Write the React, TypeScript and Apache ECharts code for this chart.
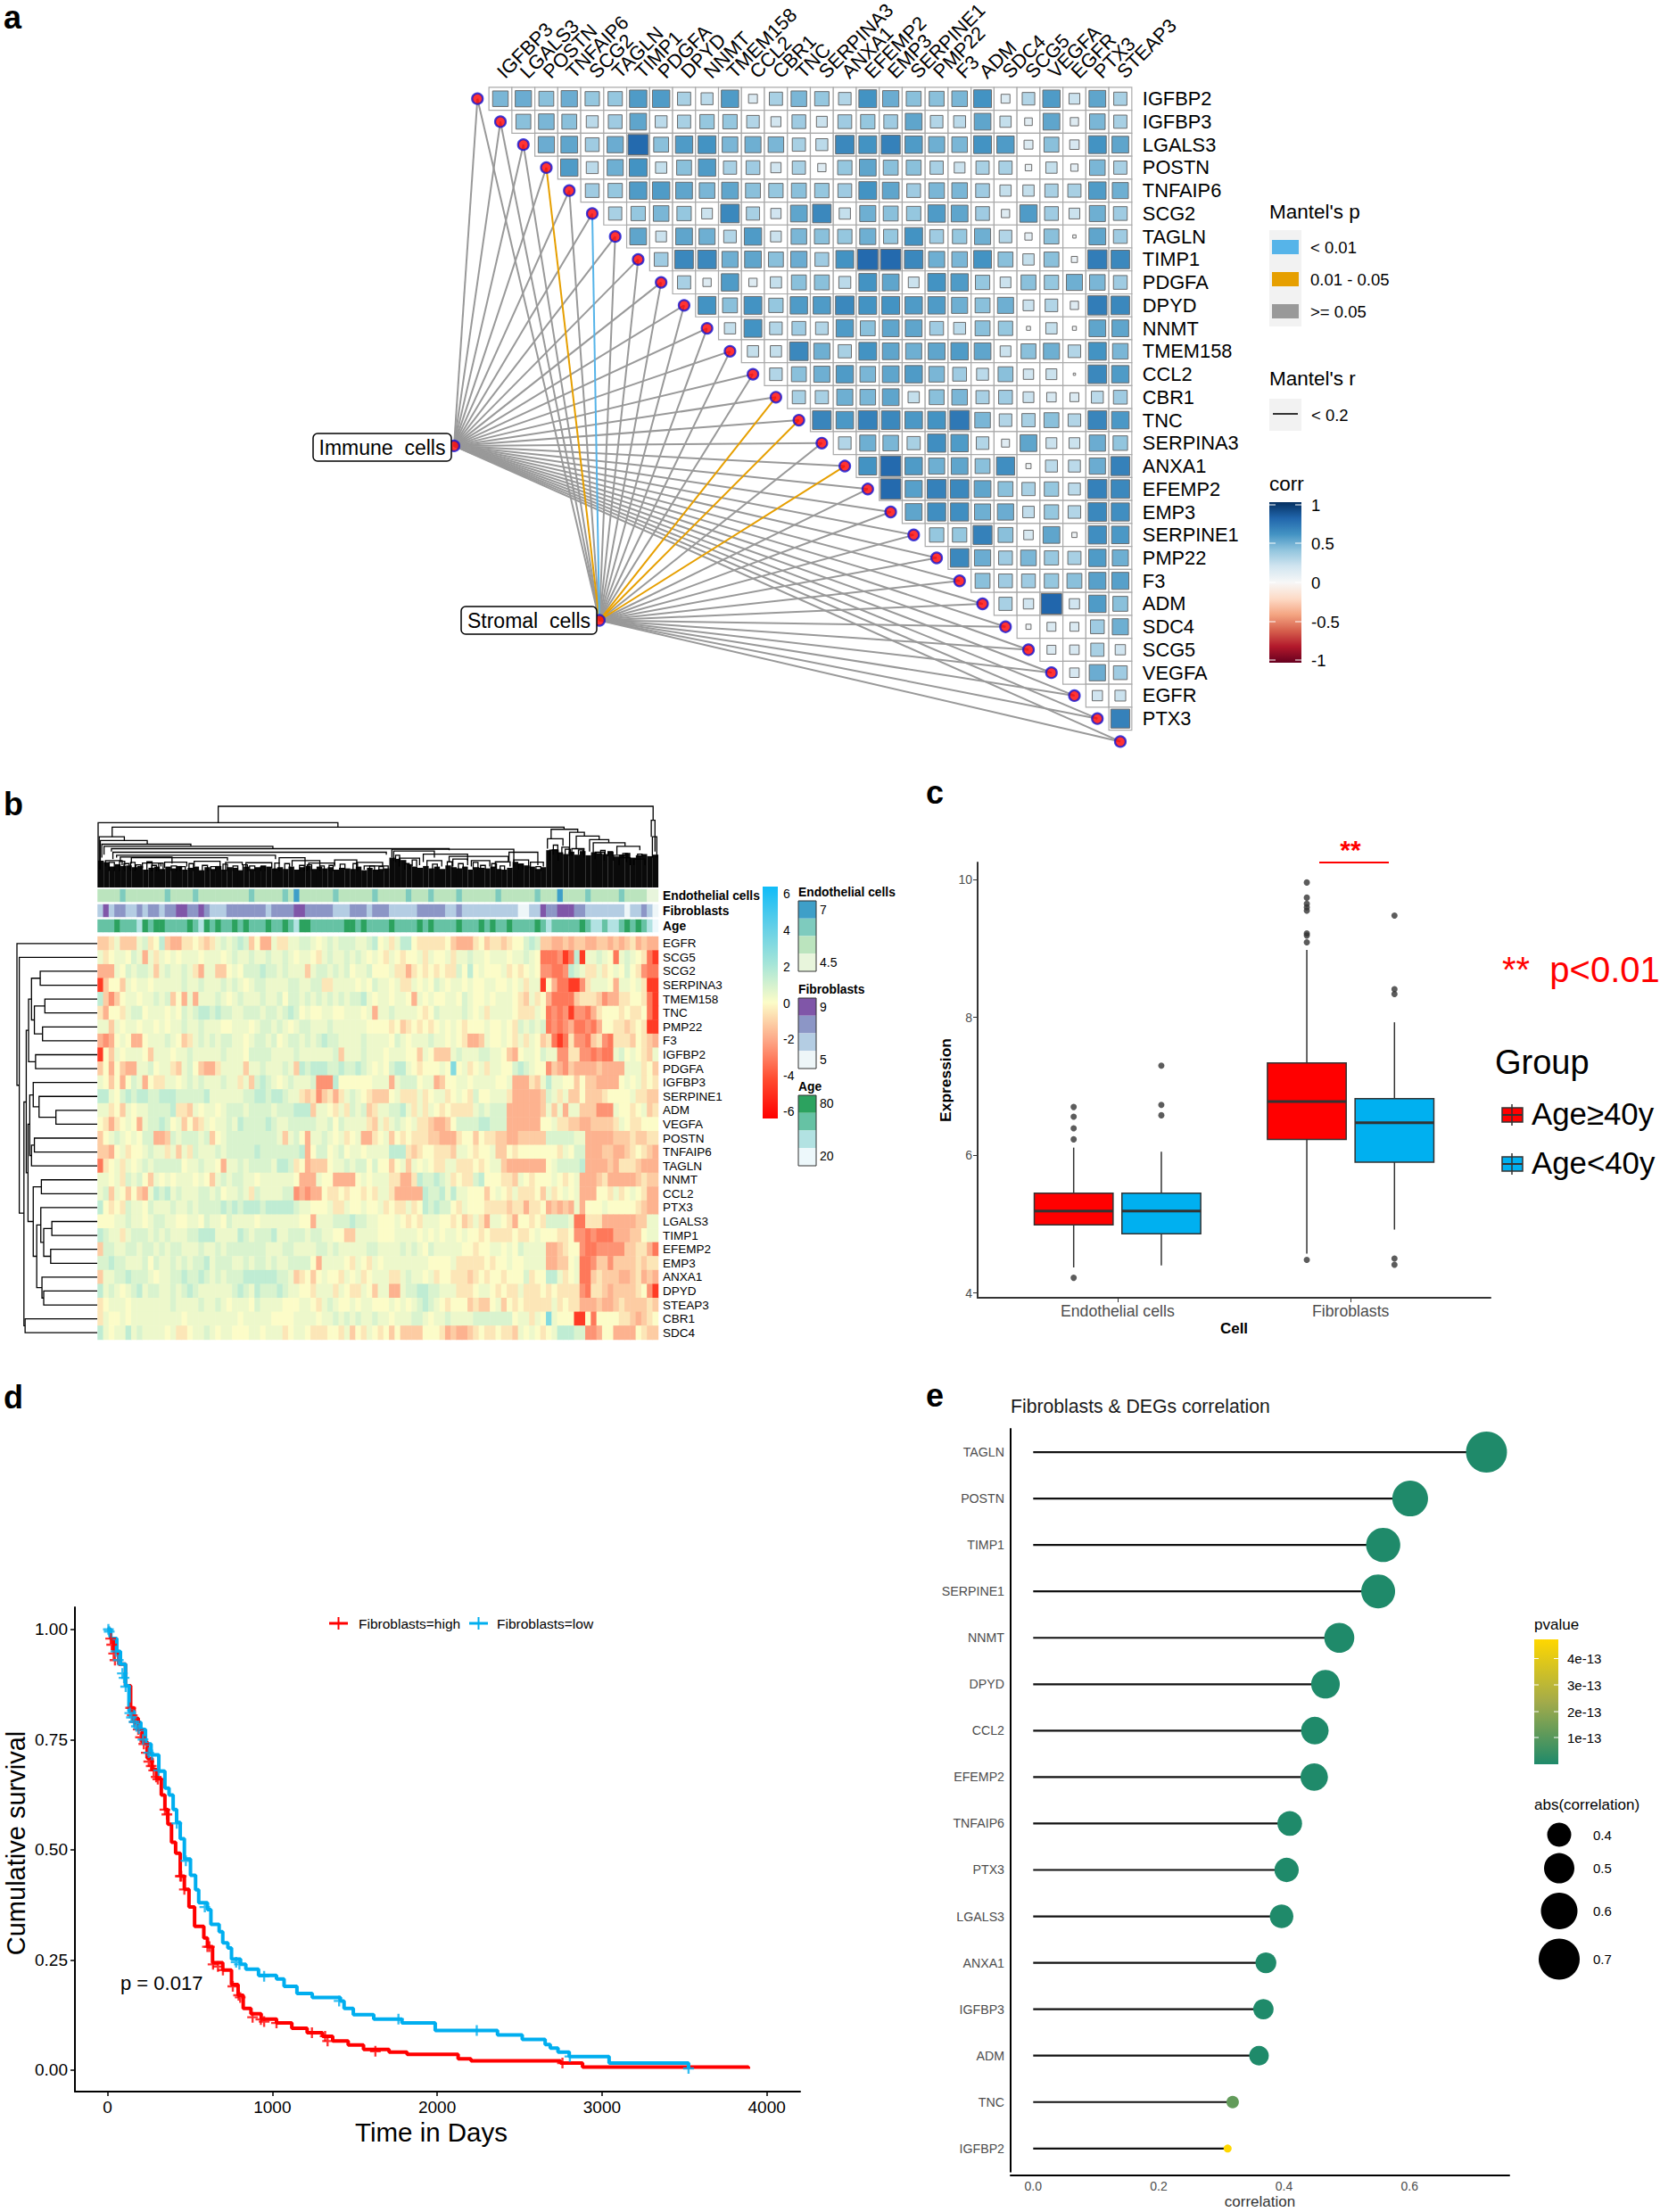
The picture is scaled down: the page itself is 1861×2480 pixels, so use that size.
import React, { useEffect, useRef } from "react";
import * as echarts from "echarts";

const FONT = "'Liberation Sans', Arial, sans-serif";

// ---------- panel a data ----------
const columnGenes = ["IGFBP3","LGALS3","POSTN","TNFAIP6","SCG2","TAGLN","TIMP1","PDGFA","DPYD","NNMT","TMEM158","CCL2","CBR1","TNC","SERPINA3","ANXA1","EFEMP2","EMP3","SERPINE1","PMP22","F3","ADM","SDC4","SCG5","VEGFA","EGFR","PTX3","STEAP3"];
const rowGenes = ["IGFBP2","IGFBP3","LGALS3","POSTN","TNFAIP6","SCG2","TAGLN","TIMP1","PDGFA","DPYD","NNMT","TMEM158","CCL2","CBR1","TNC","SERPINA3","ANXA1","EFEMP2","EMP3","SERPINE1","PMP22","F3","ADM","SDC4","SCG5","VEGFA","EGFR","PTX3"];
// each row starts on the diagonal: row r holds columns r..27
const corrRows: number[][] = [
  [.46,.5,.42,.5,.39,.39,.57,.57,.33,.27,.57,.15,.33,.46,.39,.3,.6,.5,.42,.42,.46,.6,.15,.3,.57,.22,.53,.33],
  [.42,.46,.42,.27,.36,.53,.27,.33,.39,.39,.3,.19,.36,.22,.36,.39,.36,.53,.3,.27,.53,.24,.11,.53,.13,.46,.33],
  [.5,.53,.36,.5,.78,.42,.57,.6,.46,.49,.46,.33,.27,.65,.6,.68,.57,.49,.46,.6,.57,.15,.42,.17,.6,.53],
  [.57,.27,.49,.6,.24,.42,.57,.33,.36,.2,.33,.13,.39,.53,.42,.42,.33,.22,.33,.33,.08,.24,.1,.46,.33],
  [.36,.39,.57,.57,.53,.46,.53,.42,.39,.42,.39,.36,.6,.53,.36,.46,.46,.36,.24,.24,.33,.33,.57,.49],
  [.33,.39,.46,.39,.22,.65,.33,.2,.53,.65,.24,.49,.42,.39,.57,.53,.36,.13,.57,.36,.22,.49,.36],
  [.53,.22,.53,.49,.3,.57,.22,.46,.42,.39,.49,.39,.6,.36,.39,.49,.3,.1,.42,.02,.53,.36],
  [.36,.65,.65,.49,.53,.42,.5,.36,.6,.78,.78,.65,.49,.46,.6,.42,.24,.42,.07,.7,.65],
  [.33,.13,.57,.13,.24,.42,.42,.27,.6,.53,.22,.6,.57,.39,.22,.42,.39,.49,.46,.36],
  [.6,.42,.6,.39,.57,.57,.65,.6,.6,.57,.57,.49,.42,.49,.22,.3,.13,.7,.65],
  [.24,.6,.3,.36,.3,.57,.42,.53,.53,.36,.27,.42,.39,.03,.24,.03,.53,.53],
  [.24,.24,.65,.49,.33,.6,.53,.49,.53,.57,.53,.22,.42,.49,.3,.6,.46],
  [.3,.42,.49,.57,.46,.53,.57,.46,.36,.27,.42,.2,.22,.01,.65,.57],
  [.33,.33,.49,.46,.53,.24,.42,.46,.33,.36,.22,.17,.15,.27,.36],
  [.66,.58,.68,.65,.58,.6,.72,.46,.3,.33,.42,.3,.66,.58],
  [.3,.49,.46,.33,.62,.57,.3,.12,.53,.22,.22,.5,.4],
  [.6,.78,.57,.49,.53,.42,.62,.05,.27,.27,.5,.68],
  [.78,.55,.68,.65,.53,.42,.33,.39,.27,.68,.65],
  [.53,.62,.62,.49,.5,.25,.39,.3,.65,.62],
  [.39,.39,.68,.42,.17,.53,.05,.62,.58],
  [.65,.5,.36,.46,.38,.33,.57,.49],
  [.42,.36,.36,.39,.42,.55,.55],
  [.33,.2,.8,.2,.57,.42],
  [.05,.15,.15,.36,.49],
  [.15,.17,.33,.2],
  [.17,.5,.36],
  [.2,.22],
  [.68],
];
// link classes by diagonal point 0..28 (Stromal cells end): g >= 0.05, o 0.01-0.05, b < 0.01
const stromalLinkClass = "gggogbgggggggoogogggggggggggg".split("");
const immuneAnchor = [-2.02, 15.12];
const stromalAnchor = [4.31, 22.72];

// ---------- panel b data ----------
const heatGenes = ["EGFR","SCG5","SCG2","SERPINA3","TMEM158","TNC","PMP22","F3","IGFBP2","PDGFA","IGFBP3","SERPINE1","ADM","VEGFA","POSTN","TNFAIP6","TAGLN","NNMT","CCL2","PTX3","LGALS3","TIMP1","EFEMP2","EMP3","ANXA1","DPYD","STEAP3","CBR1","SDC4"];
// one character per binned sample column, see heatLevels
const heatLevels: Record<string, number> = { "0": -4.4, "1": -3.0, "2": -2.4, "3": -1.7, "4": -1.1, "5": -0.5, "6": 0, "7": 0.35, "8": 0.8, "9": 1.4, x: 3.0 };
const heatRows = [
  "4457444785 6943355654 5787898463 3755778876 7878887789 6757996555 5564333564 5545668984 4334344334 4343453433",
  "7567768737 5767677767 7767877877 8778767765 7877878767 6576566757 6675778776 7776778761 1120190778 7617876510",
  "3337687887 4787787537 7446768889 8878777478 8787867786 6675535656 5655869676 6675656762 2112987557 5676865211",
  "0466476776 7777787787 7787876788 7777887788 5577776768 7767557676 8767767667 7667675770 6311002577 7637767500",
  "9424677677 8784637377 7876787778 7786887878 7878788976 7767763767 6677687667 6777654756 3111145554 2335566510",
  "5366578867 7767687899 8988778887 8878986766 7766777673 7787777656 8777787675 7777655576 1212022135 6665655610",
  "7747677677 6767787787 7766777678 8787678877 7877777766 6656456565 6767656667 6676587878 1212311213 6655456500",
  "3236763367 7787645787 8788776788 7867887878 9887777877 7768767778 7767653347 6676575764 5101522145 2155546543",
  "0647677764 7776778777 7787776888 8777787777 7784777877 7677766476 4447877788 7764367768 7722552212 1178676547",
  "4636433778 6775478643 3577774778 7778749899 9889889876 7689976566 676x675675 7766898766 2432433334 3333777564",
  "7646368736 5577678787 7787757489 8767877782 2296666667 7737888677 3466776777 7667333547 9776646443 3336767565",
  "9976898998 8999888889 7777778899 8998775452 4535787654 4467555756 7756765866 7775333334 8757446444 5666675544",
  "7756476778 8889554767 7678887888 8788899947 7657587845 7788975757 6565555787 8883333334 7473774442 2276656745",
  "6535676378 8986746457 6778798888 9877888887 7868777754 7578767554 3346888899 8883333336 6755443344 4457655666",
  "4678767688 3348788878 4678888888 8874786377 8767567335 6746565554 4333566465 5443344444 8888877333 3344454455",
  "4436756678 7757475877 7878888898 8888889368 8678677677 7799954566 5554776566 7446566666 6657688333 4433456543",
  "1567576787 8888867787 7637787888 8799856344 4677878868 6646747676 5577555656 7743333333 6788889333 3435554333",
  "7767587864 7676777676 4787887767 7777763337 6633336767 7755335988 9875655896 6655476566 6765673334 5333334544",
  "7847646437 9897877788 7867787587 7778823233 6556566565 7753333398 8979776664 6765755564 7567673336 6575676533",
  "9656587768 7778778788 8898989998 9999987766 6755766766 7565575698 9886576665 5554553556 3434373666 7666665433",
  "6667787767 8877667768 7768777767 7777776637 7788898877 6667656577 7665645753 7765366565 8888711555 3333334477",
  "9877578887 8787778899 9777798788 8977888788 7766447777 6667777676 7677676656 5555655676 6655622121 1133344677",
  "4887788788 7878877787 7878888888 7778877778 8787777788 7777878768 7777766566 7767687777 3345662112 2222445531",
  "8898877786 8778787889 7888778788 7877888863 7777657657 6777777776 6667555556 5667667777 3344671124 4244445455",
  "4778898887 6778898898 7878889999 9988745646 7665767567 7755787767 5665554565 6656668566 9975671145 4443345343",
  "9787678978 8778789877 7777898798 8898776657 7757655764 7733788998 8777555677 6565575556 5655552155 4344445620",
  "5677767777 7778777787 7876777687 7776667765 7876676776 6676767898 7656664544 6746565555 5756553334 3345444454",
  "5766767777 7777767777 7777767777 7666677776 7787878778 7767778876 7787777888 8888677576 x766600616 6665543456",
  "9767797877 7767556778 7677666776 7775677655 5665746576 5646444466 6534334565 5655476765 6799988223 6633336544",
];
const endothelialStrip = "1111211111 1121111211 1111111211 1112131111 1121111112 1111121112 1111211111 1211111121 1131111211 1112111100";
const fibroblastStrip = "1312211212 2122332232 1112222222 1222233222 2211122212 2211111222 2211211111 1111100113 2233322111 1111011210";
const ageStrip = "2223222132 3322223213 2322323222 3223213322 2222332322 2232222323 2222322232 3223222232 1222223211 2112323210";

// dendrogram merges: [left, right, left height, right height, join height]
const topMerges = [
  [325,1502,217,225,272],[0,649,0,202,217],[38,1261,170,195,202],[3,71,60,157,170],[6,133,60,145,157],
  [10,251,100,138,145],[16,473,110,130,138],[36,950,120,125,130],[795,1125,100,85,128],[40,780,95,110,118],
  [50,480,100,95,108],[60,200,85,80,102],[90,350,80,90,100],[20,65,70,75,90],[120,170,65,70,82],[180,240,65,70,85],
  [260,330,70,60,88],[345,390,60,75,84],[400,470,65,65,83],[490,560,80,70,100],[525,600,70,70,90],[570,640,60,70,82],
  [640,700,75,70,92],[700,770,60,70,84],[720,785,60,60,72],[800,910,90,100,122],[815,870,70,75,98],[880,1000,85,90,112],
  [950,1110,85,85,104],[890,930,70,70,90],[960,1000,70,75,95],[1010,1060,70,70,90],[1075,1115,65,70,86],[1112,1190,90,75,118],
  [1125,1165,70,65,92],[1170,1205,60,70,85],[1226,1298,163,185,195],[1276,1316,115,172,185],[1294,1356,130,160,172],
  [1330,1382,120,150,160],[1340,1426,115,138,150],[1404,1466,110,125,138],[1216,1258,130,140,163],[1222,1245,90,90,125],
  [1255,1275,110,105,135],[1282,1315,105,100,130],[1345,1370,95,90,118],[1395,1430,90,85,108],[1410,1440,75,75,100],
  [1450,1480,75,75,95],[1497,1507,170,120,225],[1500,1512,100,100,170],
  [70,84,60,60,80],[102,116,60,60,76],[145,158,55,55,74],[198,212,55,55,72],[222,236,55,55,70],[282,296,55,55,74],
  [305,318,55,55,70],[365,378,55,55,72],[410,424,55,55,72],[440,452,55,55,70],[505,518,60,60,80],[545,558,55,55,74],
  [600,612,55,55,72],[655,668,60,60,78],[735,748,55,55,72],[760,772,55,55,70],[830,842,60,60,80],[905,918,60,60,78],
  [975,988,60,60,80],[1035,1048,60,60,74],[1088,1100,55,55,72],[1138,1150,60,60,78],[1185,1198,55,55,70],
  [30,44,55,55,84],[58,72,55,55,88],[88,100,55,55,84],[132,146,55,55,86],[164,176,55,55,82],[246,258,55,55,80],
  [338,350,55,55,78],[392,404,55,55,76],[478,490,55,55,82],[566,578,55,55,76],[625,636,55,55,74],[690,702,55,55,80],
  [805,816,85,85,108],[850,862,70,70,92],[945,958,60,60,86],[1015,1028,60,60,84],[1065,1078,60,60,80],[1232,1244,110,110,142],
  [1264,1278,110,110,128],[1300,1312,110,110,126],[1360,1372,110,110,124],[1380,1392,105,105,120],[1420,1432,100,100,114],[1460,1472,100,100,112],
];
const leafHeights = [
  90,85,70,78,72,74,68,72,60,66,70,62,70,64,72,60,66,70,58,68,62,72,60,68,66,58,70,62,68,74,70,64,68,62,70,60,68,72,62,70,64,68,60,66,64,62,70,58,66,60,
  62,64,100,96,92,78,70,66,72,64,70,62,74,68,64,70,60,68,66,64,70,62,60,66,86,80,74,70,62,68,
  125,128,118,112,120,110,122,108,118,115,112,120,104,110,116,100,108,112,105,110,
];
const rowMerges = [
  [2,3,0,0,98],[4,5,0,0,90],[6,7,0,0,94],[4.5,6.5,90,94,108],[2.5,5.5,98,108,113],[8,9,0,0,106],[4,8.5,113,106,118],
  [12,13,0,0,71],[11,12.5,0,71,100],[10,11.75,0,100,110],[14,15,0,0,108],[14.5,16,108,0,113],[10.9,15.25,110,113,116],
  [17,18,0,0,96],[20,21,0,0,78],[22,23,0,0,80],[20.5,22.5,78,80,92],[19,21.5,0,92,97],[25,26,0,0,92],[24,25.5,0,92,95],
  [20.25,24.75,97,95,104],[17.5,22.5,96,104,110],[13,20,116,110,119],[6.25,16.5,118,119,122],[27,28,0,0,124],
  [11.4,27.5,122,124,126],[1,19.4,0,126,134],[0,10.2,0,134,138],
];

// ---------- panel c data: [min, Q1, median, Q3, max] ----------
const cellLabels = ["Endothelial cells", "Fibroblasts"];
const ageHighBoxes = [[4.37,4.99,5.19,5.45,6.11],[4.57,6.23,6.78,7.34,8.98]];
const ageLowBoxes = [[4.40,4.86,5.19,5.45,6.05],[4.92,5.90,6.47,6.82,7.93]];
const ageHighOutliers = [[6.70,6.56,6.39,6.23,4.22],[9.96,9.74,9.65,9.60,9.55,9.22,9.19,9.09,4.48]];
const ageLowOutliers = [[7.30,6.73,6.58],[9.48,8.41,8.34,4.50,4.41]];

// ---------- panel d data: [days, survival] ----------
const survivalHigh = [[0,1],[19,.979],[37,.95],[68,.921],[109,.872],[140,.822],[161,.798],[186,.773],[211,.744],[242,.707],[270,.682],[298,.661],[326,.624],[348,.591],[366,.558],[388,.517],[413,.492],[441,.44],[466,.41],[494,.37],[528,.326],[584,.30],[606,.28],[637,.244],[699,.227],[752,.194],[792,.17],[823,.14],[870,.128],[932,.116],[1025,.107],[1118,.095],[1211,.085],[1304,.077],[1366,.066],[1460,.057],[1553,.047],[1708,.041],[1817,.036],[2127,.026],[2205,.021],[2748,.016],[2882,.007],[3880,.007],[3888,.003]];
const survivalLow = [[0,1],[19,.979],[56,.95],[78,.921],[109,.872],[130,.814],[161,.789],[202,.773],[230,.74],[264,.715],[311,.678],[348,.64],[373,.624],[398,.591],[419,.562],[441,.525],[466,.479],[503,.442],[534,.409],[553,.38],[606,.364],[627,.331],[677,.314],[699,.289],[730,.277],[752,.252],[807,.24],[839,.229],[916,.215],[1025,.207],[1071,.19],[1149,.174],[1242,.165],[1413,.157],[1435,.14],[1491,.126],[1615,.116],[1786,.107],[1988,.09],[2366,.08],[2516,.07],[2655,.058],[2686,.05],[2733,.041],[2801,.031],[3043,.016],[3525,.004]];
const censorHigh = [[19,.979],[25,.965],[37,.945],[45,.93],[140,.822],[150,.805],[165,.79],[186,.773],[200,.755],[220,.74],[235,.72],[250,.70],[265,.69],[280,.68],[295,.665],[305,.66],[348,.591],[360,.58],[441,.44],[447,.44],[466,.41],[606,.28],[618,.28],[640,.24],[670,.235],[700,.227],[760,.19],[795,.17],[805,.165],[880,.12],[930,.115],[950,.11],[1025,.107],[1240,.085],[1320,.077],[1335,.066],[1625,.043],[2760,.016]];
const censorLow = [[5,1],[10,.995],[50,.95],[65,.93],[90,.9],[100,.89],[110,.87],[135,.81],[145,.80],[160,.79],[175,.78],[190,.775],[215,.75],[250,.72],[270,.715],[310,.68],[420,.56],[475,.475],[590,.37],[780,.245],[800,.24],[950,.213],[1405,.157],[1765,.116],[2240,.09],[2805,.031],[3525,.004]];

// ---------- panel e data ----------
const lollipopGenes = ["TAGLN","POSTN","TIMP1","SERPINE1","NNMT","DPYD","CCL2","EFEMP2","TNFAIP6","PTX3","LGALS3","ANXA1","IGFBP3","ADM","TNC","IGFBP2"];
const lollipopCorr = [.7227,.601,.558,.55,.488,.466,.449,.448,.409,.404,.396,.371,.367,.36,.318,.31];
const lollipopP = [0,0,0,0,0,0,0,0,0,0,0,0,0,0,1.2e-13,4.7e-13];

// ---------- scales and styles ----------
const rdBu = ["#67001F","#B2182B","#D6604D","#F4A582","#FDDBC7","#F7F7F7","#D1E5F0","#92C5DE","#4393C3","#2166AC","#053061"];
const heatRamp = ["#FF0000","#FF4A2E","#FDA585","#FCFCC8","#A5E5D8","#60CFE8","#10BCF8"];
const endoColors = ["#E8F5DC","#BBE4BE","#7ECBBE","#3E9FC8"];
const fibroColors = ["#EEF6F8","#B4CDE3","#8C96C6","#8056A8"];
const ageColors = ["#EDF8FB","#B2E2E2","#66C2A4","#2CA25F"];
const pRamp = ["#1F8A6A","#A3AB4A","#FFD700"];
const sizeStops = [[.31,9],[.318,14],[.36,22],[.4,27],[.45,31],[.55,38],[.6,40],[.7227,46]];
const plusSymbol = "path://M8 0h4v8h8v4h-8v8H8v-8H0V8h8z";

const hex = (c: string) => [1, 3, 5].map((i) => parseInt(c.slice(i, i + 2), 16));
function ramp(colors: string[], t: number) {
  const p = Math.max(0, Math.min(1, t)) * (colors.length - 1);
  const i = Math.min(colors.length - 2, Math.floor(p));
  const a = hex(colors[i]), b = hex(colors[i + 1]), f = p - i;
  return `rgb(${a.map((v, k) => Math.round(v + (b[k] - v) * f)).join(",")})`;
}
function stopsInterp(stops: number[][], v: number) {
  if (v <= stops[0][0]) return stops[0][1];
  for (let i = 1; i < stops.length; i++) {
    if (v <= stops[i][0]) {
      const [x0, y0] = stops[i - 1], [x1, y1] = stops[i];
      return y0 + ((y1 - y0) * (v - x0)) / (x1 - x0);
    }
  }
  return stops[stops.length - 1][1];
}
// colours listed low to high; the high end goes on top of a vertical bar
const gradient = (colors: string[]) =>
  new echarts.graphic.LinearGradient(0, 0, 0, 1, [...colors].reverse().map((color, i) => ({ offset: i / (colors.length - 1), color })));

const txt = (text: string, x: number, y: number, fontSize: number, extra: any = {}) => ({
  type: "text", x, y, z: 10, rotation: extra.rotation || 0,
  style: {
    text, fontSize, fontFamily: FONT, fill: extra.fill || "#000", fontWeight: extra.fontWeight || "normal",
    textAlign: extra.align || "left", textVerticalAlign: "middle", align: extra.align || "left", verticalAlign: "middle",
  },
});
const box = (x: number, y: number, width: number, height: number, style: any, r = 0) => ({
  type: "rect", z: 5, shape: { x, y, width, height, r }, style,
});
const seg = (x1: number, y1: number, x2: number, y2: number, stroke: string, lineWidth: number) => ({
  type: "line", z: 6, shape: { x1, y1, x2, y2 }, style: { stroke, lineWidth },
});

function buildOption() {
  const cell = 25.74, cx0 = 561, cy0 = 110.7;
  const grid: any[] = [], xAxis: any[] = [], yAxis: any[] = [], series: any[] = [], visualMap: any[] = [];
  const addGrid = (g: any, x: any, y: any) => {
    grid.push({ ...g, containLabel: false, outerBoundsMode: "none", show: false });
    xAxis.push({ gridIndex: grid.length - 1, ...x });
    yAxis.push({ gridIndex: grid.length - 1, ...y });
    return grid.length - 1;
  };
  const hiddenV = (min: number, max: number, extra: any = {}) => ({ type: "value", show: false, min, max, splitLine: { show: false }, ...extra });

  // panel a: links
  const gLinks = addGrid(
    { left: cx0 - 3 * cell, top: cy0 - cell, width: 31 * cell, height: 30 * cell },
    hiddenV(-3, 28), hiddenV(-1, 29, { inverse: true }));
  const diagPoints = [...rowGenes, "STEAP3"].map((_, i) => [i - 1, i]);
  const cls = { g: "#999999", o: "#E69F00", b: "#56B4E9" } as Record<string, string>;
  const linkData: any[] = [];
  diagPoints.forEach((p) => linkData.push({ coords: [immuneAnchor, p], lineStyle: { color: cls.g } }));
  diagPoints.forEach((p, i) => { if (stromalLinkClass[i] === "g") linkData.push({ coords: [stromalAnchor, p], lineStyle: { color: cls.g } }); });
  diagPoints.forEach((p, i) => { if (stromalLinkClass[i] !== "g") linkData.push({ coords: [stromalAnchor, p], lineStyle: { color: cls[stromalLinkClass[i]] } }); });
  series.push({ type: "lines", coordinateSystem: "cartesian2d", xAxisIndex: gLinks, yAxisIndex: gLinks, polyline: false, silent: true, z: 2, lineStyle: { width: 2, opacity: 1, curveness: 0 }, data: linkData });
  series.push({ type: "scatter", xAxisIndex: gLinks, yAxisIndex: gLinks, symbolSize: 12, z: 4, itemStyle: { color: "#FF0000", borderColor: "#1414D2", borderWidth: 2.2 }, data: [...diagPoints, immuneAnchor, stromalAnchor] });

  // panel a: correlation matrix
  const gMatrix = addGrid(
    { left: cx0 - cell / 2, top: cy0 - cell / 2, width: 28 * cell, height: 28 * cell },
    { type: "category", data: columnGenes, position: "top", axisLine: { show: false }, axisTick: { show: false }, splitLine: { show: false },
      axisLabel: { rotate: -45, fontSize: 21.8, color: "#000", fontFamily: FONT, interval: 0, margin: 14 } },
    { type: "category", data: rowGenes, inverse: true, position: "right", axisLine: { show: false }, axisTick: { show: false }, splitLine: { show: false },
      axisLabel: { fontSize: 21.8, color: "#000", fontFamily: FONT, interval: 0, margin: 12 } });
  const matrixData: number[][] = [];
  corrRows.forEach((vals, r) => vals.forEach((v, k) => matrixData.push([r + k, r, v])));
  series.push({
    type: "custom", xAxisIndex: gMatrix, yAxisIndex: gMatrix, z: 3, data: matrixData,
    renderItem: (_: any, api: any) => {
      const c = api.coord([api.value(0), api.value(1)]);
      const v = api.value(2), w = Math.sqrt(Math.abs(v)) * cell;
      return { type: "group", children: [
        { type: "rect", shape: { x: c[0] - cell / 2, y: c[1] - cell / 2, width: cell, height: cell }, style: { fill: "#fff", stroke: "#AAAAAA", lineWidth: 1.2 } },
        { type: "rect", shape: { x: c[0] - w / 2, y: c[1] - w / 2, width: w, height: w }, style: { fill: ramp(rdBu, (v + 1) / 2), stroke: "#6B6B6B", lineWidth: 1 } },
      ] };
    },
  });

  // panel b: dendrograms
  const uLine = (vertical: boolean) => (_: any, api: any) => {
    const [a, b, ha, hb, top] = [0, 1, 2, 3, 4].map((d) => api.value(d));
    const pts = vertical ? [[a, ha], [a, top], [b, top], [b, hb]] : [[ha, a], [top, a], [top, b], [hb, b]];
    return { type: "polyline", shape: { points: pts.map((p) => api.coord(p)) }, style: { stroke: "#000", fill: null, lineWidth: 1.3 } };
  };
  const gDendroTop = addGrid({ left: 110, top: 904, width: 628, height: 91 }, hiddenV(0, 1516), hiddenV(0, 272));
  series.push({ type: "bar", xAxisIndex: gDendroTop, yAxisIndex: gDendroTop, barWidth: 6.4, z: 2, itemStyle: { color: "#0a0a0a" }, data: leafHeights.map((h, i) => [7.58 + i * 15.16, h]) });
  series.push({ type: "custom", xAxisIndex: gDendroTop, yAxisIndex: gDendroTop, z: 3, data: topMerges, renderItem: uLine(true) });
  const gDendroLeft = addGrid({ left: 19, top: 1050, width: 90, height: 452 }, hiddenV(0, 138, { inverse: true }), hiddenV(-0.5, 28.5, { inverse: true }));
  series.push({ type: "custom", xAxisIndex: gDendroLeft, yAxisIndex: gDendroLeft, z: 3, data: rowMerges, renderItem: uLine(false) });

  // panel b: annotation strips and heat map
  const nCols = 100;
  const colsIdx = Array.from({ length: nCols }, (_, i) => String(i));
  const hiddenCatX = { type: "category", show: false, data: colsIdx };
  const strip = (name: string, codes: string, top: number, height: number, colors: string[]) => {
    const g = addGrid({ left: 109.5, top, width: 628.5, height }, hiddenCatX,
      { type: "category", data: [name], position: "right", axisLine: { show: false }, axisTick: { show: false }, splitLine: { show: false },
        axisLabel: { fontSize: 13.8, fontWeight: "bold", color: "#000", fontFamily: FONT, margin: 5 } });
    const clean = codes.replace(/\s/g, "");
    series.push({ type: "heatmap", xAxisIndex: g, yAxisIndex: g, name, data: clean.split("").map((c, i) => [i, 0, Number(c)]), itemStyle: { borderWidth: 0 } });
    visualMap.push({ show: false, type: "continuous", seriesIndex: series.length - 1, dimension: 2, min: 0, max: 3, inRange: { color: colors } });
  };
  strip("Endothelial cells", endothelialStrip, 997, 14, endoColors);
  strip("Fibroblasts", fibroblastStrip, 1014, 14, fibroColors);
  strip("Age", ageStrip, 1031, 14, ageColors);
  const gHeat = addGrid({ left: 109.5, top: 1050, width: 628.5, height: 452 }, hiddenCatX,
    { type: "category", data: heatGenes, inverse: true, position: "right", axisLine: { show: false }, axisTick: { show: false }, splitLine: { show: false },
      axisLabel: { fontSize: 13.5, color: "#000", fontFamily: FONT, interval: 0, margin: 5 } });
  const heatData: number[][] = [];
  heatRows.forEach((row, r) => row.replace(/\s/g, "").split("").forEach((c, i) => heatData.push([i, r, heatLevels[c]])));
  series.push({ type: "heatmap", xAxisIndex: gHeat, yAxisIndex: gHeat, name: "expression", data: heatData, itemStyle: { borderWidth: 0 } });
  visualMap.push({ show: false, type: "continuous", seriesIndex: series.length - 1, dimension: 2, min: -6, max: 6, inRange: { color: heatRamp } });

  // panel c: box plots (no whisker caps)
  const axisLine = { show: true, onZero: false, lineStyle: { color: "#333", width: 2 } };
  const gBox = addGrid({ left: 1096, top: 967, width: 575, height: 488 },
    { type: "value", min: 0.4, max: 2.6, splitLine: { show: false }, axisLine, axisTick: { customValues: [1, 2], lineStyle: { color: "#333" } },
      axisLabel: { customValues: [1, 2], formatter: (v: number) => cellLabels[v - 1], fontSize: 17.7, color: "#4d4d4d", fontFamily: FONT, margin: 6 },
      name: "Cell", nameLocation: "middle", nameGap: 26, nameTextStyle: { fontSize: 17, fontWeight: "bold", color: "#000", fontFamily: FONT } },
    { type: "value", min: 3.93, max: 10.25, splitLine: { show: false }, axisLine, axisTick: { customValues: [4, 6, 8, 10], lineStyle: { color: "#333" } },
      axisLabel: { customValues: [4, 6, 8, 10], fontSize: 14, color: "#4d4d4d", fontFamily: FONT, margin: 6 },
      name: "Expression", nameLocation: "middle", nameGap: 28, nameTextStyle: { fontSize: 17.4, fontWeight: "bold", color: "#000", fontFamily: FONT } });
  const dodge = 0.188, half = 0.169;
  const boxSeries = (name: string, boxes: number[][], outliers: number[][], offset: number, color: string) => {
    series.push({
      type: "custom", name, xAxisIndex: gBox, yAxisIndex: gBox, z: 3,
      data: boxes.map((b, i) => [i + 1 + offset, ...b]),
      renderItem: (_: any, api: any) => {
        const [x, lo, q1, med, q3, hi] = [0, 1, 2, 3, 4, 5].map((d) => api.value(d));
        const P = (a: number, b: number) => api.coord([a, b]);
        const l = (p: number[], q: number[], w: number) => ({ type: "line", shape: { x1: p[0], y1: p[1], x2: q[0], y2: q[1] }, style: { stroke: "#333", lineWidth: w } });
        const tl = P(x - half, q3), br = P(x + half, q1);
        return { type: "group", children: [
          l(P(x, lo), P(x, q1), 1.5), l(P(x, q3), P(x, hi), 1.5),
          { type: "rect", shape: { x: tl[0], y: tl[1], width: br[0] - tl[0], height: br[1] - tl[1] }, style: { fill: color, stroke: "#333", lineWidth: 1.5 } },
          l(P(x - half, med), P(x + half, med), 3),
        ] };
      },
    });
    const pts: number[][] = [];
    outliers.forEach((vals, i) => vals.forEach((v) => pts.push([i + 1 + offset, v])));
    series.push({ type: "scatter", xAxisIndex: gBox, yAxisIndex: gBox, symbolSize: 7, z: 3, itemStyle: { color: "#333" }, data: pts });
  };
  boxSeries("Age≥40y", ageHighBoxes, ageHighOutliers, -dodge, "#FF0000");
  boxSeries("Age<40y", ageLowBoxes, ageLowOutliers, dodge, "#00B0F0");

  // panel d: survival
  const blackLine = { show: true, onZero: false, lineStyle: { color: "#000", width: 2 } };
  const gKM = addGrid({ left: 84, top: 1802, width: 813, height: 543 },
    { type: "value", min: -198, max: 4202, splitLine: { show: false }, axisLine: blackLine, axisTick: { customValues: [0, 1000, 2000, 3000, 4000], lineStyle: { color: "#000", width: 1.5 } },
      axisLabel: { customValues: [0, 1000, 2000, 3000, 4000], formatter: (v: number) => String(v), fontSize: 19, color: "#000", fontFamily: FONT, margin: 8 },
      name: "Time in Days", nameLocation: "middle", nameGap: 30, nameTextStyle: { fontSize: 29.5, color: "#000", fontFamily: FONT, padding: [0, 14, 0, 0] } },
    { type: "value", min: -0.0486, max: 1.05, splitLine: { show: false }, axisLine: blackLine, axisTick: { customValues: [0, .25, .5, .75, 1], lineStyle: { color: "#000", width: 1.5 } },
      axisLabel: { customValues: [0, .25, .5, .75, 1], formatter: (v: number) => v.toFixed(2), fontSize: 19, color: "#000", fontFamily: FONT, margin: 8 },
      name: "Cumulative survival", nameLocation: "middle", nameGap: 52, nameTextStyle: { fontSize: 29, color: "#000", fontFamily: FONT, padding: [0, 0, 0, 14] } });
  const kmLine = (name: string, data: number[][], color: string, marks: number[][]) => {
    series.push({ type: "line", name, xAxisIndex: gKM, yAxisIndex: gKM, step: "end", showSymbol: false, symbol: "none", lineStyle: { color, width: 4 }, itemStyle: { color }, data, z: 3 });
    series.push({ type: "scatter", xAxisIndex: gKM, yAxisIndex: gKM, symbol: plusSymbol, symbolSize: 12, itemStyle: { color }, data: marks, z: 4 });
  };
  kmLine("Fibroblasts=high", survivalHigh, "#FF0000", censorHigh);
  kmLine("Fibroblasts=low", survivalLow, "#00AEEF", censorLow);

  // panel e: lollipop
  const gLol = addGrid({ left: 1133, top: 1602, width: 559, height: 832.8 },
    { type: "value", min: -0.036, max: 0.759, offset: 4, splitLine: { show: false }, axisLine: blackLine, axisTick: { customValues: [0, .2, .4, .6], lineStyle: { color: "#333" } },
      axisLabel: { customValues: [0, .2, .4, .6], formatter: (v: number) => v.toFixed(1), fontSize: 14, color: "#4d4d4d", fontFamily: FONT, margin: 5 },
      name: "correlation", nameLocation: "middle", nameGap: 21, nameTextStyle: { fontSize: 17, color: "#333", fontFamily: FONT } },
    { type: "category", data: lollipopGenes, inverse: true, splitLine: { show: false }, axisLine: blackLine, axisTick: { alignWithLabel: true, lineStyle: { color: "#333" } },
      axisLabel: { fontSize: 14.2, color: "#4d4d4d", fontFamily: FONT, margin: 7, interval: 0 } });
  series.push({ type: "bar", xAxisIndex: gLol, yAxisIndex: gLol, barWidth: 2.2, z: 2, itemStyle: { color: "#111" }, data: lollipopCorr });
  series.push({
    type: "scatter", name: "correlation", xAxisIndex: gLol, yAxisIndex: gLol, z: 3,
    symbolSize: (v: number[]) => stopsInterp(sizeStops, v[0]),
    data: lollipopCorr.map((v, i) => ({ value: [v, i], itemStyle: { color: ramp(pRamp, lollipopP[i] / 4.7e-13), opacity: 1 } })),
  });

  // ---------- annotations ----------
  const g: any[] = [];
  const letter = (t: string, x: number, y: number) => g.push(txt(t, x, y, 36, { fontWeight: "bold" }));
  letter("a", 4, 19); letter("b", 4, 901); letter("c", 1038, 888); letter("d", 4, 1566); letter("e", 1038, 1564);

  // a: nodes
  [["Immune  cells", 351, 486, 155], ["Stromal  cells", 517, 680, 152]].forEach(([t, x, y, w]: any) => {
    g.push(box(x, y, w, 31, { fill: "#fff", stroke: "#000", lineWidth: 1.5 }, 5));
    g.push(txt(t, x + w / 2, y + 16, 23, { align: "center" }));
  });
  // a: legends
  g.push(txt("Mantel's p", 1423, 237, 22.5));
  g.push(box(1423, 258, 36, 108, { fill: "#F2F2F2" }));
  [["< 0.01", "#56B4E9", 277], ["0.01 - 0.05", "#E69F00", 313], [">= 0.05", "#999999", 349]].forEach(([t, c, y]: any) => {
    g.push(box(1426, y - 8, 30, 16, { fill: c }));
    g.push(txt(t, 1469, y, 18.5));
  });
  g.push(txt("Mantel's r", 1423, 424, 22.5));
  g.push(box(1423, 447, 36, 36, { fill: "#F2F2F2" }));
  g.push(seg(1427, 464, 1455, 464, "#333", 2));
  g.push(txt("< 0.2", 1470, 465, 18.5));
  g.push(txt("corr", 1423, 542, 22.5));
  g.push(box(1423, 563, 36, 180, { fill: gradient(rdBu) }));
  [["1", 566], ["0.5", 609], ["0", 653], ["-0.5", 697], ["-1", 740]].forEach(([t, y]: any) => {
    g.push(seg(1423, y, 1430, y, "#fff", 1)); g.push(seg(1452, y, 1459, y, "#fff", 1));
    g.push(txt(t, 1470, y, 18.5));
  });

  // b: legends
  g.push(box(855, 994, 17, 260, { fill: gradient(heatRamp) }));
  [["6", 1002], ["4", 1043], ["2", 1084], ["0", 1125], ["-2", 1165], ["-4", 1206], ["-6", 1246]].forEach(([t, y]: any) => g.push(txt(t, 878, y, 14)));
  const stepLegend = (title: string, yTitle: number, yTop: number, colors: string[], hi: string, yHi: number, lo: string, yLo: number) => {
    g.push(txt(title, 895, yTitle, 13.8, { fontWeight: "bold" }));
    const h = 79 / colors.length;
    [...colors].reverse().forEach((c, i) => g.push(box(895, yTop + i * h, 20, h, { fill: c })));
    g.push(box(895, yTop, 20, 79, { fill: "none", stroke: "#333", lineWidth: 1 }));
    g.push(txt(hi, 919, yHi, 14)); g.push(txt(lo, 919, yLo, 14));
  };
  stepLegend("Endothelial cells", 1000, 1010, endoColors, "7", 1020, "4.5", 1079);
  stepLegend("Fibroblasts", 1109, 1119, fibroColors, "9", 1129, "5", 1188);
  stepLegend("Age", 1218, 1228, ageColors, "80", 1237, "20", 1296);

  // c: significance and group legend
  g.push(seg(1479, 967, 1557, 967, "#FF0000", 2));
  g.push(txt("**", 1514, 952, 30, { fill: "#FF0000", fontWeight: "bold", align: "center" }));
  g.push(txt("**  p<0.01", 1684, 1087, 40, { fill: "#FF0000" }));
  g.push(txt("Group", 1676, 1191, 38));
  [["Age≥40y", "#FF0000", 1250], ["Age<40y", "#00B0F0", 1305]].forEach(([t, c, y]: any) => {
    g.push(seg(1695, y - 12, 1695, y + 12, "#333", 1.5));
    g.push(box(1684, y - 8, 23, 16, { fill: c, stroke: "#333", lineWidth: 1.5 }));
    g.push(seg(1684, y, 1707, y, "#333", 2));
    g.push(txt(t, 1717, y - 2, 34.8));
  });

  // d: legend and p value
  g.push(txt("p = 0.017", 135, 2223, 22));
  [["Fibroblasts=high", "#FF0000", 369, 402], ["Fibroblasts=low", "#00AEEF", 526, 557]].forEach(([t, c, x, tx]: any) => {
    g.push(seg(x, 1820, x + 21, 1820, c, 3)); g.push(seg(x + 10.5, 1813, x + 10.5, 1827, c, 2));
    g.push(txt(t, tx, 1820, 15.5));
  });

  // e: title and legends
  g.push(txt("Fibroblasts & DEGs correlation", 1133, 1576, 21.2, { fill: "#1a1a1a" }));
  g.push(txt("pvalue", 1720, 1821, 17));
  g.push(box(1720, 1838, 27, 140, { fill: gradient(pRamp) }));
  [["4e-13", 1859.5], ["3e-13", 1889], ["2e-13", 1919], ["1e-13", 1948]].forEach(([t, y]: any) => {
    g.push(seg(1720, y, 1725, y, "#fff", 1)); g.push(seg(1742, y, 1747, y, "#fff", 1));
    g.push(txt(t, 1757, y, 15));
  });
  g.push(txt("abs(correlation)", 1720, 2023, 17));
  [["0.4", 2057, 27], ["0.5", 2094.6, 34], ["0.6", 2142.5, 41], ["0.7", 2196.5, 46]].forEach(([t, y, d]: any) => {
    g.push({ type: "circle", z: 5, shape: { cx: 1748, cy: y, r: d / 2 }, style: { fill: "#000" } });
    g.push(txt(t, 1786, y, 15));
  });

  return { animation: false, backgroundColor: "#fff", textStyle: { fontFamily: FONT }, grid, xAxis, yAxis, series, visualMap, graphic: { elements: g } };
}

export default function App() {
  const ref = useRef<HTMLDivElement>(null);
  useEffect(() => {
    document.body.style.margin = "0";
    const chart = echarts.init(ref.current!, undefined, { renderer: "svg" });
    chart.setOption(buildOption() as any);
    return () => chart.dispose();
  }, []);
  return <div ref={ref} style={{ width: 1861, height: 2480, position: "absolute", left: 0, top: 0 }} />;
}
